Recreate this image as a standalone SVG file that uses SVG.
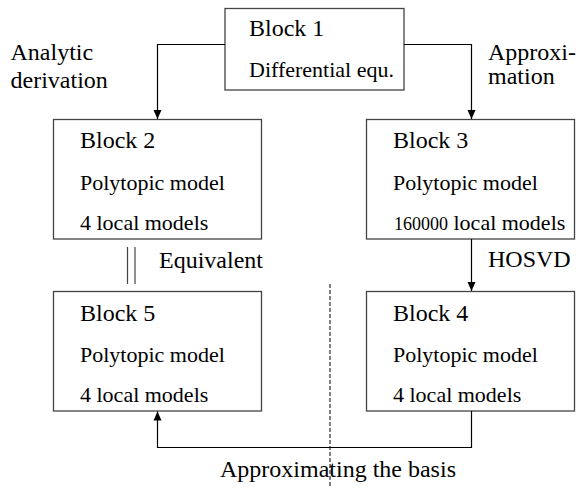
<svg xmlns="http://www.w3.org/2000/svg" width="580" height="488" viewBox="0 0 580 488">
<style>
  .box { fill: #ffffff; stroke: #444444; stroke-width: 1.3; }
  .title { font-family: "Liberation Serif", "Times New Roman", serif; font-size: 24px; fill: #000; }
  .body { font-family: "Liberation Serif", "Times New Roman", serif; font-size: 22px; fill: #000; }
  .small { font-size: 18px; }
  .label { font-family: "Liberation Serif", "Times New Roman", serif; font-size: 24px; fill: #000; }
  .conn { fill: none; stroke: #000; stroke-width: 1.2; }
</style>
<defs>
  <marker id="arrow" markerWidth="10" markerHeight="10" refX="9" refY="5" orient="auto" markerUnits="userSpaceOnUse">
    <path d="M0,1 L9,5 L0,9 Z" fill="#000"/>
  </marker>
</defs>
<rect width="580" height="488" fill="#ffffff"/>

<g id="block1">
  <rect class="box" x="225" y="8.5" width="179" height="81.5"/>
  <text class="title" x="249" y="36">Block 1</text>
  <text class="body" x="249" y="77">Differential equ.</text>
</g>
<g id="block2">
  <rect class="box" x="53.5" y="119.5" width="208" height="119.5"/>
  <text class="title" x="80" y="148">Block 2</text>
  <text class="body" x="80" y="189.5">Polytopic model</text>
  <text class="body" x="80" y="230">4 local models</text>
</g>
<g id="block3">
  <rect class="box" x="366.5" y="119.5" width="208" height="119.5"/>
  <text class="title" x="393" y="148">Block 3</text>
  <text class="body" x="393" y="189.5">Polytopic model</text>
  <text class="body" x="394" y="230"><tspan class="small">160000</tspan> local models</text>
</g>
<g id="block5">
  <rect class="box" x="53.5" y="291.5" width="208" height="119.5"/>
  <text class="title" x="80" y="320.5">Block 5</text>
  <text class="body" x="80" y="361.5">Polytopic model</text>
  <text class="body" x="80" y="401.5">4 local models</text>
</g>
<g id="block4">
  <rect class="box" x="366.5" y="291.5" width="208" height="119.5"/>
  <text class="title" x="393" y="320.5">Block 4</text>
  <text class="body" x="393" y="361.5">Polytopic model</text>
  <text class="body" x="393" y="401.5">4 local models</text>
</g>

<g id="connectors">
  <polyline class="conn" points="225,44.5 157.5,44.5 157.5,119" marker-end="url(#arrow)"/>
  <polyline class="conn" points="404,44.5 471.5,44.5 471.5,119" marker-end="url(#arrow)"/>
  <line class="conn" x1="471.5" y1="239" x2="471.5" y2="291" marker-end="url(#arrow)"/>
  <polyline class="conn" points="471.5,411 471.5,447.5 157.5,447.5 157.5,411.5" marker-end="url(#arrow)"/>
  <line x1="127.5" y1="247" x2="127.5" y2="284" stroke="#444" stroke-width="1.2"/>
  <line x1="135" y1="247" x2="135" y2="284" stroke="#444" stroke-width="1.2"/>
  <line x1="330" y1="284" x2="330" y2="488" stroke="#000" stroke-width="1" stroke-dasharray="4,2"/>
</g>

<g id="labels">
  <text class="label" x="10.5" y="60">Analytic</text>
  <text class="label" x="10.5" y="88">derivation</text>
  <text class="label" x="488" y="60">Approxi-</text>
  <text class="label" x="488" y="84">mation</text>
  <text class="label" x="159" y="268">Equivalent</text>
  <text class="label" x="488" y="267">HOSVD</text>
  <text class="label" x="220" y="476.5">Approximating the basis</text>
</g>
</svg>
